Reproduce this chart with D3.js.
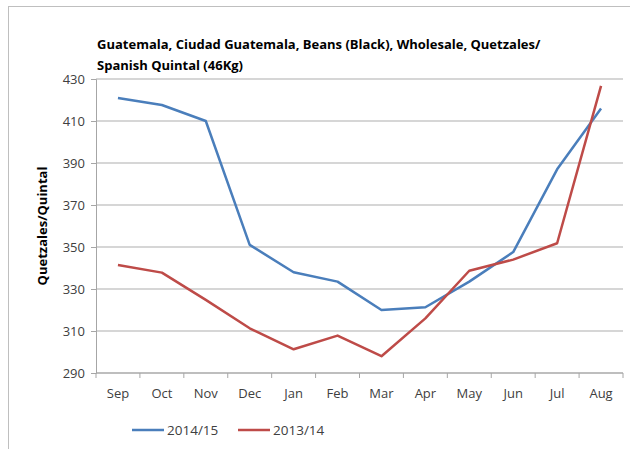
<!DOCTYPE html>
<html>
<head>
<meta charset="utf-8">
<script src="https://cdn.jsdelivr.net/npm/d3@7"></script>
<style>
  body { margin: 0; background: #fff; }
  text { font-family: "Open Sans", "Noto Sans", sans-serif; }
</style>
</head>
<body>
<div id="chart"></div>
<script>
const months = ["Sep", "Oct", "Nov", "Dec", "Jan", "Feb", "Mar", "Apr", "May", "Jun", "Jul", "Aug"];
const season1415 = [421, 417.6, 410, 351, 338, 333.5, 320, 321.3, 333.5, 347.6, 387, 416];
const season1314 = [341.4, 337.8, 324.8, 311.3, 301.3, 307.8, 298, 316, 338.7, 344, 351.8, 426.7];
const yTicks = [290, 310, 330, 350, 370, 390, 410, 430];
const seriesNames = ["2014/15", "2013/14"];
const colors = ["#4a7ebb", "#be4b48"];

const width = 630, height = 449;
const margin = { left: 96, right: 7, top: 79, bottom: 76 };

const svg = d3.select("#chart").append("svg")
    .attr("width", width)
    .attr("height", height);

// outer frame
svg.append("rect")
    .attr("x", 8.5).attr("y", 6.5)
    .attr("width", width - 8).attr("height", height)
    .attr("fill", "none").attr("stroke", "#bfbfbf");

const x = d3.scaleBand()
    .domain(months)
    .range([margin.left, width - margin.right]);

const y = d3.scaleLinear()
    .domain([290, 430])
    .range([height - margin.bottom, margin.top]);

// gridlines
svg.append("g")
    .selectAll("line")
    .data(yTicks)
    .enter()
    .append("line")
    .attr("x1", margin.left)
    .attr("x2", width - margin.right)
    .attr("y1", d => y(d))
    .attr("y2", d => y(d))
    .attr("stroke", "#c8c8c8")
    .attr("stroke-width", 1.5);

// y axis
const yAxis = svg.append("g")
    .attr("transform", `translate(${margin.left},0)`)
    .call(d3.axisLeft(y).tickValues(yTicks).tickSize(5).tickPadding(6));
yAxis.select(".domain").attr("stroke", "#a6a6a6");
yAxis.selectAll(".tick line").attr("stroke", "#a6a6a6");
yAxis.selectAll("text").attr("font-size", 13).attr("fill", "#404040");

// x axis, ticks between categories
const xAxis = svg.append("g")
    .attr("transform", `translate(0,${height - margin.bottom})`);
xAxis.append("line")
    .attr("x1", margin.left).attr("x2", width - margin.right)
    .attr("stroke", "#a6a6a6");
xAxis.selectAll(".tk")
    .data(months.concat(["end"]))
    .enter()
    .append("line")
    .attr("class", "tk")
    .attr("x1", (d, i) => margin.left + i * x.step())
    .attr("x2", (d, i) => margin.left + i * x.step())
    .attr("y1", 0).attr("y2", 5)
    .attr("stroke", "#a6a6a6");
xAxis.selectAll(".lbl")
    .data(months)
    .enter()
    .append("text")
    .attr("class", "lbl")
    .attr("x", d => x(d) + x.bandwidth() / 2)
    .attr("y", 25)
    .attr("text-anchor", "middle")
    .attr("font-size", 13)
    .attr("fill", "#404040")
    .text(d => d);

// lines
const line = d3.line()
    .x((d, i) => x(months[i]) + x.bandwidth() / 2)
    .y(d => y(d));

[season1415, season1314].forEach((s, i) => {
    svg.append("path")
        .datum(s)
        .attr("d", line)
        .attr("fill", "none")
        .attr("stroke", colors[i])
        .attr("stroke-width", 2.5)
        .attr("stroke-linejoin", "round");
});

// title
const title = svg.append("text")
    .attr("x", 97).attr("y", 49)
    .attr("font-size", 13)
    .attr("font-weight", "bold")
    .attr("fill", "#000");
title.append("tspan").attr("x", 97).text("Guatemala, Ciudad Guatemala, Beans (Black), Wholesale, Quetzales/");
title.append("tspan").attr("x", 97).attr("dy", 21).text("Spanish Quintal (46Kg)");

// y axis title
svg.append("text")
    .attr("transform", `translate(47,${(margin.top + height - margin.bottom) / 2}) rotate(-90)`)
    .attr("text-anchor", "middle")
    .attr("font-size", 13)
    .attr("font-weight", "bold")
    .text("Quetzales/Quintal");

// legend
const legend = svg.append("g").attr("transform", "translate(132,430)");
seriesNames.forEach((name, i) => {
    const g = legend.append("g").attr("transform", `translate(${i * 106},0)`);
    g.append("line")
        .attr("x1", 0).attr("x2", 32)
        .attr("y1", 0).attr("y2", 0)
        .attr("stroke", colors[i])
        .attr("stroke-width", 2.5);
    g.append("text")
        .attr("x", 35).attr("y", 5)
        .attr("font-size", 13.5)
        .attr("fill", "#404040")
        .text(name);
});
</script>
</body>
</html>
